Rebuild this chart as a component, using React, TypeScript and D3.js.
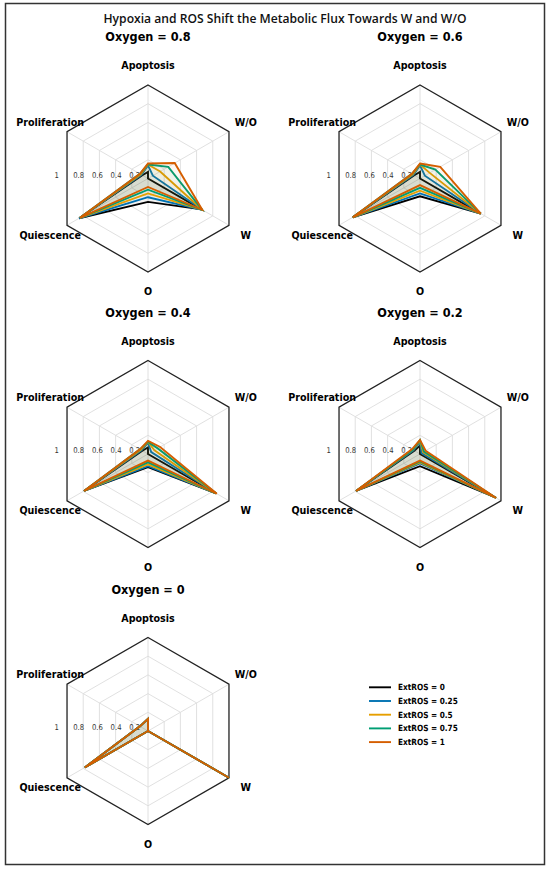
import * as d3 from 'd3';

// Axes go clockwise from 12 o'clock
const AXES = ['Apoptosis', 'W/O', 'W', 'O', 'Quiescence', 'Proliferation'];
const ROS_LABELS = ['ExtROS = 0', 'ExtROS = 0.25', 'ExtROS = 0.5', 'ExtROS = 0.75', 'ExtROS = 1'];
const ROS_COLORS = ['#000000', '#0072B2', '#E69F00', '#009E73', '#D55E00'];
const OXYGEN_LEVELS = ['0.8', '0.6', '0.4', '0.2', '0'];
const TICKS = [0.2, 0.4, 0.6, 0.8, 1];
const TICK_LABELS = ['0.2', '0.4', '0.6', '0.8', '1'];

// one row per ExtROS level, values in AXES order
const oxygen08 = [
  [0.07, 0.0, 0.66, 0.25, 0.85, 0.07],
  [0.14, 0.06, 0.67, 0.2, 0.85, 0.08],
  [0.15, 0.15, 0.67, 0.16, 0.84, 0.09],
  [0.15, 0.25, 0.67, 0.12, 0.84, 0.1],
  [0.16, 0.33, 0.67, 0.09, 0.84, 0.1],
];
const oxygen06 = [
  [0.07, 0.0, 0.75, 0.19, 0.83, 0.07],
  [0.14, 0.06, 0.75, 0.16, 0.83, 0.08],
  [0.15, 0.12, 0.75, 0.13, 0.83, 0.09],
  [0.15, 0.19, 0.75, 0.1, 0.83, 0.1],
  [0.16, 0.25, 0.75, 0.07, 0.83, 0.1],
];
const oxygen04 = [
  [0.07, 0.0, 0.84, 0.14, 0.79, 0.07],
  [0.12, 0.04, 0.84, 0.13, 0.79, 0.08],
  [0.13, 0.08, 0.84, 0.11, 0.79, 0.09],
  [0.13, 0.12, 0.84, 0.09, 0.79, 0.1],
  [0.14, 0.15, 0.85, 0.07, 0.79, 0.1],
];
const oxygen02 = [
  [0.09, 0.0, 0.93, 0.13, 0.79, 0.07],
  [0.13, 0.02, 0.93, 0.1, 0.79, 0.08],
  [0.14, 0.04, 0.94, 0.09, 0.79, 0.09],
  [0.15, 0.05, 0.94, 0.08, 0.79, 0.09],
  [0.15, 0.07, 0.94, 0.07, 0.79, 0.1],
];
const oxygen00 = [
  [0.13, 0.0, 1.0, 0.0, 0.78, 0.1],
  [0.13, 0.0, 1.0, 0.0, 0.78, 0.1],
  [0.13, 0.0, 1.0, 0.0, 0.78, 0.1],
  [0.13, 0.0, 1.0, 0.0, 0.78, 0.1],
  [0.13, 0.0, 1.0, 0.0, 0.78, 0.1],
];
const PANEL_DATA = [oxygen08, oxygen06, oxygen04, oxygen02, oxygen00];

const WIDTH = 550;
const HEIGHT = 872;
const R = 93.5;
const COLS = [148, 420];
const ROWS = [178.5, 454, 731];
const FONT = 'DejaVu Sans, sans-serif';

// text in the figure looks horizontally condensed
function SText({
  x,
  y,
  size,
  anchor = 'middle',
  weight = 'bold',
  sx = 0.86,
  fill = '#000',
  dy,
  children,
}: {
  x: number;
  y: number;
  size: number;
  anchor?: string;
  weight?: string;
  sx?: number;
  fill?: string;
  dy?: string;
  children: React.ReactNode;
}) {
  return (
    <text
      transform={`translate(${x},${y}) scale(${sx},1)`}
      fontSize={size}
      fontFamily={FONT}
      fontWeight={weight}
      textAnchor={anchor}
      fill={fill}
      dy={dy}
    >
      {children}
    </text>
  );
}

function Radar({ cx, cy, title, series }: { cx: number; cy: number; title: string; series: number[][] }) {
  const r = d3.scaleLinear().domain([0, 1]).range([0, R]);
  const angle = (i: number) => (i * 2 * Math.PI) / AXES.length;

  const radial = d3
    .lineRadial<number>()
    .angle((_, i) => angle(i))
    .radius((d) => r(d))
    .curve(d3.curveLinearClosed);

  return (
    <g transform={`translate(${cx},${cy})`}>
      <SText x={0} y={-137.5} size={13} sx={0.87}>
        {title}
      </SText>

      {/* grid */}
      {TICKS.slice(0, -1).map((t) => (
        <path key={t} d={radial(AXES.map(() => t)) ?? ''} fill="none" stroke="#dcdcdc" strokeWidth={0.9} />
      ))}
      {AXES.map((_, i) => {
        const [x, y] = d3.pointRadial(angle(i), r(1));
        return <line key={i} x1={0} y1={0} x2={x} y2={y} stroke="#dcdcdc" strokeWidth={0.9} />;
      })}
      <path d={radial(AXES.map(() => 1)) ?? ''} fill="none" stroke="#222" strokeWidth={1.3} />

      {/* radial tick labels along 9 o'clock */}
      {TICKS.map((t, i) => (
        <SText key={t} x={-r(t)} y={-1} size={8} anchor="start" weight="normal" fill="#333">
          {TICK_LABELS[i]}
        </SText>
      ))}

      {/* series */}
      {series.map((vals, s) => (
        <g key={s}>
          <path d={radial(vals) ?? ''} fill={ROS_COLORS[s]} fillOpacity={0.05} stroke="none" />
          <path
            d={radial(vals) ?? ''}
            fill="none"
            stroke={ROS_COLORS[s]}
            strokeWidth={1.9}
            strokeLinejoin="miter"
          />
        </g>
      ))}

      {/* axis labels */}
      {AXES.map((a, i) => {
        const [x, y] = d3.pointRadial(angle(i), 113);
        return (
          <SText key={a} x={x} y={y} size={11} sx={0.87} dy="0.36em">
            {a}
          </SText>
        );
      })}
    </g>
  );
}

function Legend({ x, y }: { x: number; y: number }) {
  const rowY = d3.scaleLinear().domain([0, 1]).range([0, 13.7]);
  return (
    <g transform={`translate(${x},${y})`}>
      {ROS_LABELS.map((label, i) => (
        <g key={label} transform={`translate(0,${rowY(i)})`}>
          <line x1={0} x2={22} y1={0} y2={0} stroke={ROS_COLORS[i]} strokeWidth={1.9} />
          <SText x={29} y={0} size={8.5} anchor="start" sx={0.865} dy="0.36em">
            {label}
          </SText>
        </g>
      ))}
    </g>
  );
}

export default function App() {
  return (
    <div style={{ position: 'absolute', left: 0, top: 0 }}>
      <svg width={WIDTH} height={HEIGHT} viewBox={`0 0 ${WIDTH} ${HEIGHT}`} style={{ display: 'block', background: '#fff' }}>
        <rect x={5.5} y={3.5} width={539} height={861} fill="#fff" stroke="#333" strokeWidth={1.5} />
        <text
          x={285}
          y={22.5}
          fontSize={13}
          fontFamily="Open Sans, sans-serif"
          fontWeight={600}
          textAnchor="middle"
          textLength={363}
          lengthAdjust="spacingAndGlyphs"
          fill="#111"
        >
          Hypoxia and ROS Shift the Metabolic Flux Towards W and W/O
        </text>
        {PANEL_DATA.map((series, k) => (
          <Radar
            key={k}
            cx={COLS[k % 2]}
            cy={ROWS[Math.floor(k / 2)]}
            title={`Oxygen = ${OXYGEN_LEVELS[k]}`}
            series={series}
          />
        ))}
        <Legend x={369} y={687.3} />
      </svg>
    </div>
  );
}
